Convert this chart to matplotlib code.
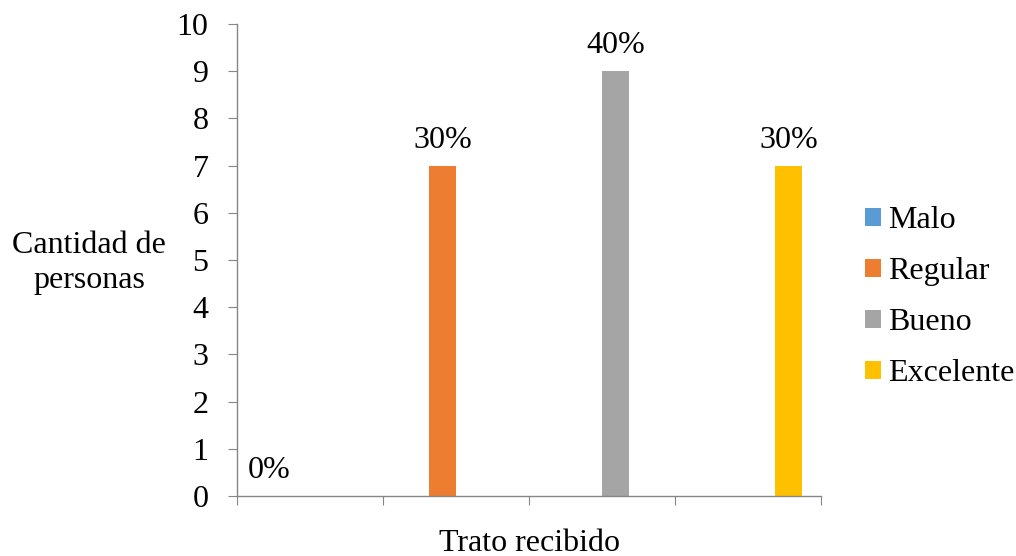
import matplotlib
matplotlib.use("Agg")
import numpy as np
import matplotlib.pyplot as plt

plt.rcParams["font.family"] = ["Liberation Serif", "DejaVu Serif"]

# ── Data ──────────────────────────────────────────────────────────────
SERIES  = ["Malo", "Regular", "Bueno", "Excelente"]
VALUES  = [0, 7, 9, 7]
PERCENT = ["0%", "30%", "40%", "30%"]
COLORS  = ["#5B9BD5", "#ED7D31", "#A5A5A5", "#FFC000"]
N_CATS  = 4

BAR_W = 0.185  # four series per group, Excel-style gap
AXIS_GREY = "#868686"
FS = 23

fig = plt.figure(figsize=(10.16, 5.56), dpi=100)
ax = fig.add_axes([0.2333, 0.1079, 0.5748, 0.8489])

# each series sits in its own category slot, at its clustered offset
for j, (name, val, pct, col) in enumerate(zip(SERIES, VALUES, PERCENT, COLORS)):
    x = j + (j - 1.5) * BAR_W
    ax.bar(x, val, width=BAR_W, color=col, label=name)
    ax.annotate(pct, (x, val), xytext=(0, 8), textcoords="offset points",
                ha="center", va="bottom", fontsize=FS)

ax.set_xlim(-0.5, N_CATS - 0.5)
ax.set_ylim(0, 10)
ax.set_yticks(range(0, 11))
ax.set_xticks(np.arange(-0.5, N_CATS, 1.0))
ax.set_xticklabels([])

for side in ("top", "right"):
    ax.spines[side].set_visible(False)
for side in ("left", "bottom"):
    ax.spines[side].set_color(AXIS_GREY)
    ax.spines[side].set_linewidth(1.0)
ax.tick_params(axis="y", length=6.5, color=AXIS_GREY, labelsize=FS, pad=14)
ax.tick_params(axis="x", length=6.5, color=AXIS_GREY)

ax.set_ylabel("Cantidad de\npersonas", rotation=0, fontsize=FS,
              ha="center", va="center", linespacing=1.3)
ax.yaxis.set_label_coords(-0.253, 0.494)
ax.set_xlabel("Trato recibido", fontsize=FS, va="top")
ax.xaxis.set_label_coords(0.5, -0.07)

leg = ax.legend(loc="center left", bbox_to_anchor=(1.075, 0.421), frameon=False,
                fontsize=FS, handlelength=0.5, handleheight=0.5, borderpad=0,
                borderaxespad=0, handletextpad=0.22, labelspacing=0.69)

fig.savefig("out.png", dpi=100)
